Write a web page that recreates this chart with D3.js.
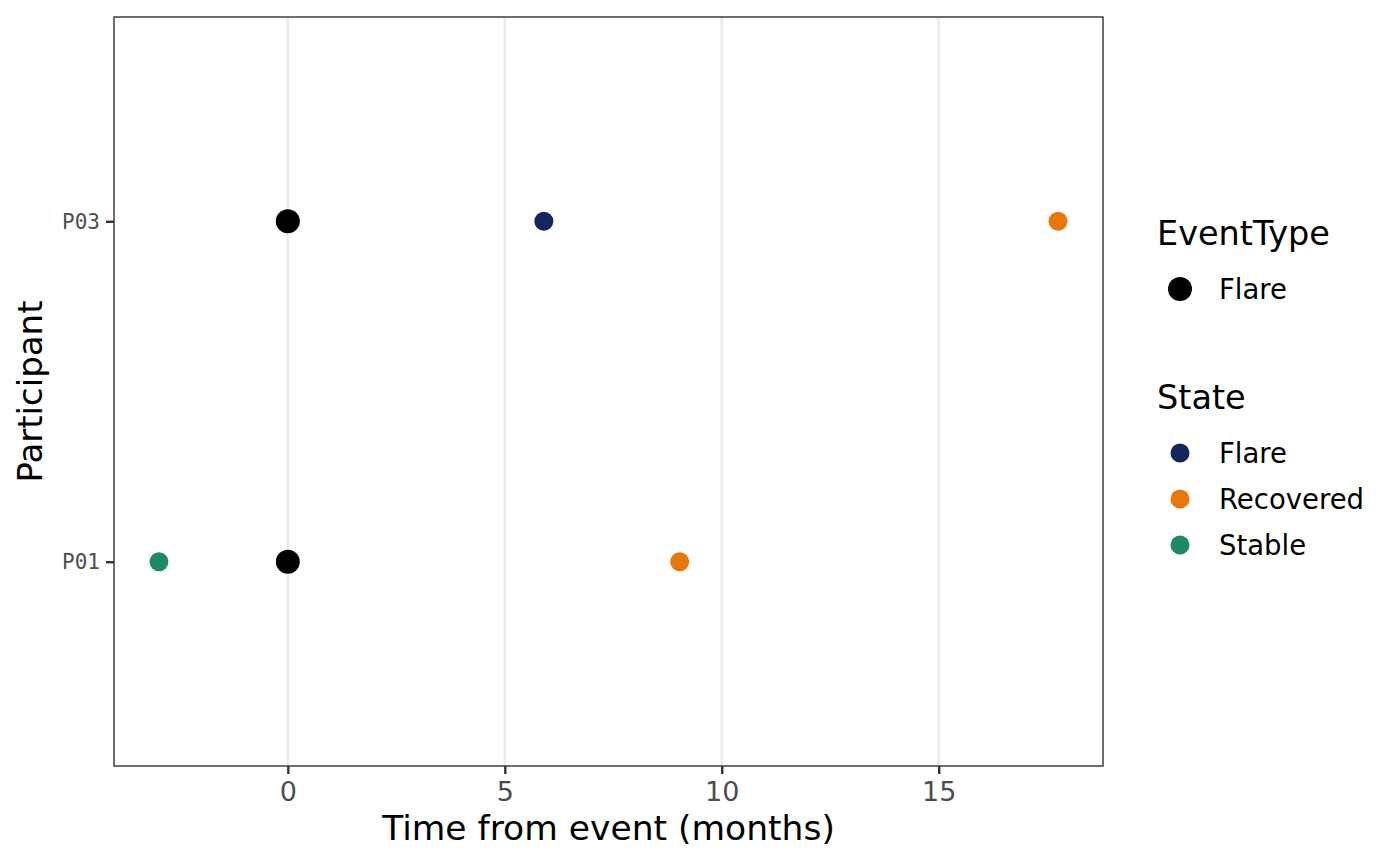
<!DOCTYPE html>
<html>
<head>
<meta charset="utf-8">
<script src="https://cdn.jsdelivr.net/npm/d3@7"></script>
<style>
  body { margin: 0; background: #fff; }
  text { font-family: "DejaVu Sans", sans-serif; }
</style>
</head>
<body>
<svg id="chart" width="1400" height="866"></svg>
<script>
(function Chart() {
  /* global d3 */
  // data
  var participants = ["P01", "P03"];

  var eventParticipant = ["P01", "P03"];
  var eventTime = [0, 0];
  var eventType = ["Flare", "Flare"];

  var stateParticipant = ["P01", "P01", "P03", "P03"];
  var stateTime = [-2.97, 9.03, 5.9, 17.75];
  var stateName = ["Stable", "Recovered", "Flare", "Recovered"];

  var eventTypes = ["Flare"];
  var stateLevels = ["Flare", "Recovered", "Stable"];
  var stateColors = ["#14255e", "#e8770b", "#1e8a64"];
  var xTicks = [0, 5, 10, 15];

  var svg = d3.select("#chart"),
    panel = {left: 114, right: 1103, top: 17, bottom: 766};

  var allTimes = eventTime.concat(stateTime),
    ext = d3.extent(allTimes),
    pad = (ext[1] - ext[0]) * 0.05;

  var x = d3.scaleLinear()
    .domain([ext[0] - pad, ext[1] + pad])
    .range([panel.left, panel.right]);

  var y = d3.scalePoint()
    .domain(participants)
    .range([panel.bottom, panel.top])
    .padding(0.6);

  var color = d3.scaleOrdinal()
    .domain(stateLevels)
    .range(stateColors);

  // grid
  svg.append("g")
    .selectAll("line")
    .data(xTicks)
    .enter().append("line")
      .attr("x1", function (d) { return x(d); })
      .attr("x2", function (d) { return x(d); })
      .attr("y1", panel.top)
      .attr("y2", panel.bottom)
      .attr("stroke", "#ebebeb")
      .attr("stroke-width", 2.6);

  // points
  var states = stateTime.map(function (t, i) {
    return {t: t, p: stateParticipant[i], s: stateName[i]};
  });
  var events = eventTime.map(function (t, i) {
    return {t: t, p: eventParticipant[i], e: eventType[i]};
  });

  svg.append("g").selectAll("circle")
    .data(states)
    .enter().append("circle")
      .attr("cx", function (d) { return x(d.t); })
      .attr("cy", function (d) { return y(d.p); })
      .attr("r", 9.5)
      .attr("fill", function (d) { return color(d.s); });

  svg.append("g").selectAll("circle")
    .data(events)
    .enter().append("circle")
      .attr("cx", function (d) { return x(d.t); })
      .attr("cy", function (d) { return y(d.p); })
      .attr("r", 12)
      .attr("fill", "#000");

  // panel border
  svg.append("rect")
    .attr("x", panel.left)
    .attr("y", panel.top)
    .attr("width", panel.right - panel.left)
    .attr("height", panel.bottom - panel.top)
    .attr("fill", "none")
    .attr("stroke", "#333")
    .attr("stroke-width", 1.4);

  // axes
  var xAxis = svg.append("g")
    .attr("transform", "translate(0," + panel.bottom + ")")
    .call(d3.axisBottom(x).tickValues(xTicks).tickSize(8).tickPadding(8).tickFormat(d3.format("d")));
  xAxis.select(".domain").remove();
  xAxis.selectAll("line").attr("stroke", "#333").attr("stroke-width", 2.4);
  xAxis.selectAll("text")
    .attr("fill", "#4d4d4d")
    .style("font-family", "'DejaVu Sans', sans-serif")
    .style("font-size", "27px");

  var yAxis = svg.append("g")
    .attr("transform", "translate(" + panel.left + ",0)")
    .call(d3.axisLeft(y).tickSize(8).tickPadding(6));
  yAxis.select(".domain").remove();
  yAxis.selectAll("line").attr("stroke", "#333").attr("stroke-width", 2.4);
  yAxis.selectAll("text")
    .attr("fill", "#4d4d4d")
    .style("font-family", "'DejaVu Sans Mono', monospace")
    .style("font-size", "21px");

  // axis titles
  svg.append("text")
    .attr("x", (panel.left + panel.right) / 2)
    .attr("y", 840)
    .attr("text-anchor", "middle")
    .style("font-size", "34.5px")
    .text("Time from event (months)");

  svg.append("text")
    .attr("transform", "translate(42," + ((panel.top + panel.bottom) / 2) + ") rotate(-90)")
    .attr("text-anchor", "middle")
    .style("font-size", "34px")
    .text("Participant");

  // legends
  var lg1 = svg.append("g");
  lg1.append("text")
    .attr("x", 1157).attr("y", 245)
    .style("font-size", "33.5px")
    .text("EventType");
  var e1 = lg1.selectAll(".item").data(eventTypes).enter().append("g");
  e1.append("circle")
    .attr("cx", 1180)
    .attr("cy", function (d, i) { return 289 + i * 46; })
    .attr("r", 12)
    .attr("fill", "#000");
  e1.append("text")
    .attr("x", 1219)
    .attr("y", function (d, i) { return 289 + i * 46; })
    .attr("dy", "0.36em")
    .style("font-size", "27.5px")
    .text(function (d) { return d; });

  var lg2 = svg.append("g");
  lg2.append("text")
    .attr("x", 1157).attr("y", 409)
    .style("font-size", "33.5px")
    .text("State");
  var s1 = lg2.selectAll(".item").data(stateLevels).enter().append("g");
  s1.append("circle")
    .attr("cx", 1180)
    .attr("cy", function (d, i) { return 453 + i * 46; })
    .attr("r", 9.5)
    .attr("fill", function (d) { return color(d); });
  s1.append("text")
    .attr("x", 1219)
    .attr("y", function (d, i) { return 453 + i * 46; })
    .attr("dy", "0.36em")
    .style("font-size", "27.5px")
    .text(function (d) { return d; });
})();
</script>
</body>
</html>
